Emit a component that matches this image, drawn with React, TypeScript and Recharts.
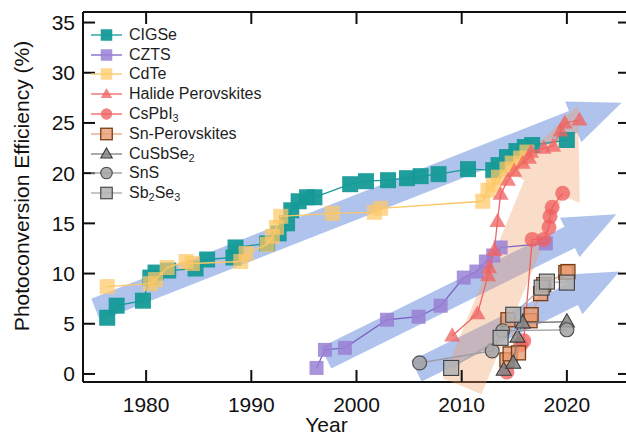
import React from 'react';
import { ComposedChart, Scatter, XAxis, YAxis, Legend, Label } from 'recharts';

const FONT = '"Liberation Sans", Arial, sans-serif';

// ---------- data ----------
const yearTicks = [1980, 1990, 2000, 2010, 2020];
const effTicks = [0, 5, 10, 15, 20, 25, 30, 35];
const xDomain: [number, number] = [1974, 2026];
const yDomain: [number, number] = [-0.8, 36.05];

const cigse = [[1976.3, 5.6], [1977.2, 6.8], [1979.7, 7.3], [1980.4, 9.6], [1980.9, 10.1], [1982.1, 10.3], [1984.7, 10.5], [1985.8, 11.4], [1988.3, 11.6], [1988.5, 12.6], [1991.5, 13.0], [1992.6, 14.0], [1993.4, 15.0], [1993.8, 16.3], [1994.5, 17.2], [1995.3, 17.6], [1996.0, 17.6], [1999.4, 18.9], [2000.9, 19.2], [2003.0, 19.3], [2004.8, 19.5], [2006.1, 19.7], [2007.8, 19.9], [2010.6, 20.4], [2013.0, 20.3], [2013.5, 20.8], [2014.3, 21.6], [2015.2, 22.2], [2016.0, 22.6], [2016.7, 22.8], [2020.0, 23.3]];
const czts = [[1996.2, 0.6], [1997.0, 2.4], [1998.9, 2.6], [2002.9, 5.4], [2005.9, 5.7], [2008.0, 6.8], [2010.2, 9.6], [2011.4, 10.2], [2012.3, 11.2], [2013.0, 11.8], [2013.7, 12.6], [2018.0, 13.0]];
const cdte = [[1976.3, 8.7], [1980.4, 9.0], [1980.9, 9.4], [1982.0, 10.6], [1983.8, 11.2], [1984.4, 11.0], [1989.0, 11.2], [1989.5, 12.0], [1991.5, 12.9], [1992.0, 13.7], [1992.4, 14.6], [1992.8, 15.7], [1997.7, 16.0], [2001.7, 16.1], [2002.3, 16.5], [2012.0, 17.2], [2012.5, 18.3], [2013.0, 18.8], [2013.5, 19.6], [2014.3, 20.4], [2014.8, 21.0], [2015.6, 21.5], [2016.2, 22.1]];
const halide = [[2009.1, 3.8], [2011.5, 6.0], [2012.5, 9.8], [2012.6, 10.6], [2013.1, 12.3], [2013.4, 15.2], [2013.7, 17.9], [2014.4, 19.3], [2015.0, 20.2], [2015.8, 21.0], [2016.4, 21.5], [2016.6, 22.1], [2017.8, 22.5], [2018.7, 22.7], [2019.4, 24.2], [2019.8, 25.0], [2021.2, 25.3]];
const cspbi3 = [[2014.3, 0.2], [2015.6, 2.9], [2015.9, 3.3], [2016.7, 13.4], [2017.8, 13.4], [2018.3, 14.6], [2018.4, 15.7], [2018.6, 16.6], [2019.6, 18.0]];
const snPerov = [[2014.3, 1.4], [2014.6, 2.0], [2015.4, 2.1], [2014.4, 5.4], [2016.5, 5.3], [2016.6, 5.9], [2017.5, 8.0], [2017.8, 8.9], [2019.9, 10.1], [2020.1, 10.2]];
const cuSbSe2 = [[2014.0, 0.4], [2014.9, 1.1], [2015.3, 3.7], [2015.8, 5.1], [2020.0, 5.2]];
const snS = [[2006.0, 1.1], [2012.9, 2.3], [2013.9, 4.3], [2020.0, 4.4]];
const sb2Se3 = [[2009.0, 0.6], [2013.7, 3.6], [2014.9, 5.9], [2017.6, 8.6], [2018.1, 9.2], [2020.0, 9.1]];

// trend arrows: [tail, tip] in (year, %)
const blueArrowTop = [[1975.2, 6.4], [2025.2, 27.0]];
const blueArrowMid = [[1997.1, 1.6], [2024.7, 15.9]];
const blueArrowLow = [[2005.7, 0.3], [2025.0, 10.2]];
const orangeArrow = [[2010.2, -0.8], [2021.06, 26.8]];

// ---------- helpers / styles ----------
type Pt = { x: number; y: number };
const toPts = (a: number[][]): Pt[] => a.map(([x, y]) => ({ x, y }));

type Kind = 'square' | 'circle' | 'triangle';
interface SeriesStyle { name: string; data: number[][]; kind: Kind; size: number; fill: string; stroke: string; sw: number; line: string; op: number; }

const series: SeriesStyle[] = [
  { name: 'CIGSe', data: cigse, kind: 'square', size: 16, fill: '#159a98', stroke: 'none', sw: 0, line: '#159a98', op: 0.95 },
  { name: 'CZTS', data: czts, kind: 'square', size: 14, fill: '#9a80d4', stroke: 'none', sw: 0, line: '#7d62c4', op: 0.85 },
  { name: 'CdTe', data: cdte, kind: 'square', size: 15, fill: '#fdc767', stroke: 'none', sw: 0, line: '#fcc666', op: 0.72 },
  { name: 'Halide Perovskites', data: halide, kind: 'triangle', size: 16, fill: '#f06464', stroke: 'none', sw: 0, line: '#f06464', op: 0.78 },
  { name: 'CsPbI3', data: cspbi3, kind: 'circle', size: 15, fill: '#f06060', stroke: 'none', sw: 0, line: '#f06060', op: 0.78 },
  { name: 'Sn-Perovskites', data: snPerov, kind: 'square', size: 14, fill: '#e99a70', stroke: '#7a3c12', sw: 1.3, line: '#e9a27c', op: 0.78 },
  { name: 'CuSbSe2', data: cuSbSe2, kind: 'triangle', size: 15, fill: '#858585', stroke: '#3a3a3a', sw: 1.1, line: '#7e7e7e', op: 0.85 },
  { name: 'SnS', data: snS, kind: 'circle', size: 14, fill: '#a2a2a2', stroke: '#4d4d4d', sw: 1.1, line: '#9a9a9a', op: 0.85 },
  { name: 'Sb2Se3', data: sb2Se3, kind: 'square', size: 15, fill: '#b2b2b2', stroke: '#3f3f3f', sw: 1.1, line: '#a8a8a8', op: 0.85 },
];
const byName: Record<string, SeriesStyle> = Object.fromEntries(series.map((s) => [s.name, s]));
const order: Record<string, number> = Object.fromEntries(series.map((s, i) => [s.name, i]));

function Marker({ cx, cy, s, size }: { cx: number; cy: number; s: SeriesStyle; size: number }) {
  const common = { fill: s.fill, fillOpacity: s.op, stroke: s.stroke, strokeWidth: s.sw };
  if (s.kind === 'square') return <rect x={cx - size / 2} y={cy - size / 2} width={size} height={size} {...common} />;
  if (s.kind === 'circle') return <circle cx={cx} cy={cy} r={size / 2} {...common} />;
  const h = size * 0.88;
  return <polygon points={`${cx},${cy - h * 0.6} ${cx + size / 2},${cy + h * 0.4} ${cx - size / 2},${cy + h * 0.4}`} {...common} />;
}

interface ArrowStyle { fill: string; opacity: number; shaft: number; head: number; headLen: number; tailExtend: number; }
const blueStyle: ArrowStyle = { fill: '#5a82d8', opacity: 0.48, shaft: 23.5, head: 44, headLen: 52, tailExtend: 0 };
const orangeStyle: ArrowStyle = { fill: '#f09a62', opacity: 0.34, shaft: 42, head: 78, headLen: 90, tailExtend: 4.5 };

const arrowLine = (st: ArrowStyle) => (props: any) => {
  const p = props.points as { x: number; y: number }[];
  if (!p || p.length < 2) return <g />;
  const a = p[0], b = p[1];
  const dx = b.x - a.x, dy = b.y - a.y;
  const len = Math.hypot(dx, dy) || 1;
  const ux = dx / len, uy = dy / len;
  const nx = -uy, ny = ux;
  const tx = a.x - ux * st.tailExtend, ty = a.y - uy * st.tailExtend;
  const bx = b.x - ux * st.headLen, by = b.y - uy * st.headLen;
  const sh = st.shaft / 2, hh = st.head / 2;
  const poly = [
    [tx + nx * sh, ty + ny * sh], [bx + nx * sh, by + ny * sh], [bx + nx * hh, by + ny * hh], [b.x, b.y],
    [bx - nx * hh, by - ny * hh], [bx - nx * sh, by - ny * sh], [tx - nx * sh, ty - ny * sh],
  ].map((q) => q.join(',')).join(' ');
  return <polygon points={poly} fill={st.fill} fillOpacity={st.opacity} stroke="none" />;
};

const nameWithSubs = (name: string) =>
  name.split(/(\d+)/).map((part, i) =>
    /^\d+$/.test(part) ? <sub key={i} style={{ fontSize: '0.68em', lineHeight: 0, verticalAlign: '-0.3em' }}>{part}</sub> : <span key={i}>{part}</span>
  );

const renderLegend = (props: any) => {
  const payload = (props.payload || [])
    .filter((e: any) => byName[e.value])
    .slice()
    .sort((a: any, b: any) => order[a.value] - order[b.value]);
  return (
    <div style={{ fontFamily: FONT, fontSize: 16, color: '#1e1e1e' }}>
      {payload.map((e: any) => {
        const s = byName[e.value];
        return (
          <div key={e.value} style={{ display: 'flex', alignItems: 'center', height: 19.8, whiteSpace: 'nowrap' }}>
            <svg width={31} height={16} style={{ marginRight: 7, overflow: 'visible', flex: 'none' }}>
              <line x1={0} y1={8} x2={31} y2={8} stroke={s.line} strokeWidth={1.3} />
              <Marker cx={15.5} cy={8} s={s} size={11.5} />
            </svg>
            <span>{nameWithSubs(s.name)}</span>
          </div>
        );
      })}
    </div>
  );
};

const AX = '#111';
const TICK = 12;

const BottomTick = (p: any) => (
  <g>
    <line x1={p.x} y1={p.y} x2={p.x} y2={p.y - TICK} stroke={AX} strokeWidth={2} />
    <text x={p.x} y={p.y + 30} textAnchor="middle" fontSize={21} fontFamily={FONT} fill="#111">{p.payload.value}</text>
  </g>
);
const TopTick = (p: any) => <line x1={p.x} y1={p.y} x2={p.x} y2={p.y + TICK} stroke={AX} strokeWidth={2} />;
const LeftTick = (p: any) => (
  <g>
    <line x1={p.x} y1={p.y} x2={p.x + TICK} y2={p.y} stroke={AX} strokeWidth={2} />
    <text x={p.x - 8} y={p.y + 7.5} textAnchor="end" fontSize={21} fontFamily={FONT} fill="#111">{p.payload.value}</text>
  </g>
);
const RightTick = (p: any) => <line x1={p.x} y1={p.y} x2={p.x - TICK} y2={p.y} stroke={AX} strokeWidth={2} />;

const YTitle = (p: any) => {
  const vb = p.viewBox || { x: 0, y: 12, width: 83, height: 370 };
  const cx = vb.x + 21;
  const cy = vb.y + vb.height / 2 - 11;
  return (
    <text x={cx} y={cy} transform={`rotate(-90 ${cx} ${cy})`} textAnchor="middle" dominantBaseline="central" fontSize={21} fontFamily={FONT} fill="#111">
      Photoconversion Efficiency (%)
    </text>
  );
};
const XTitle = (p: any) => {
  const vb = p.viewBox || { x: 83, y: 382, width: 547, height: 56 };
  return (
    <text x={vb.x + vb.width / 2 - 30} y={vb.y + 50} textAnchor="middle" fontSize={21} fontFamily={FONT} fill="#111">Year</text>
  );
};

const noShape = () => <g />;

export default function App() {
  return (
    <div style={{ position: 'fixed', left: 0, top: 0, width: 626, height: 438, overflow: 'hidden', background: '#fff', fontFamily: FONT }}>
      <ComposedChart width={642} height={438} margin={{ top: 0, right: 0, bottom: 0, left: 0 }}>
        <XAxis xAxisId={0} type="number" dataKey="x" domain={xDomain} ticks={yearTicks} interval={0} height={56}
          axisLine={{ stroke: AX, strokeWidth: 2 }} tickLine={false} tickSize={0} tickMargin={0} tick={BottomTick}>
          <Label content={XTitle} />
        </XAxis>
        <XAxis xAxisId="top" orientation="top" type="number" dataKey="x" domain={xDomain} ticks={yearTicks} interval={0} height={12}
          allowDataOverflow axisLine={{ stroke: AX, strokeWidth: 2 }} tickLine={false} tickSize={0} tickMargin={0} tick={TopTick} />
        <YAxis yAxisId={0} type="number" dataKey="y" domain={yDomain} ticks={effTicks} interval={0} width={83}
          axisLine={{ stroke: AX, strokeWidth: 2 }} tickLine={false} tickSize={0} tickMargin={0} tick={LeftTick}>
          <Label content={YTitle} />
        </YAxis>
        <YAxis yAxisId="right" orientation="right" type="number" dataKey="y" domain={yDomain} ticks={effTicks} interval={0} width={12}
          allowDataOverflow axisLine={{ stroke: AX, strokeWidth: 2 }} tickLine={false} tickSize={0} tickMargin={0} tick={RightTick} />

        <Scatter name="arrow-top" data={toPts(blueArrowTop)} legendType="none" shape={noShape} line={arrowLine(blueStyle)} isAnimationActive={false} />
        <Scatter name="arrow-mid" data={toPts(blueArrowMid)} legendType="none" shape={noShape} line={arrowLine(blueStyle)} isAnimationActive={false} />
        <Scatter name="arrow-low" data={toPts(blueArrowLow)} legendType="none" shape={noShape} line={arrowLine(blueStyle)} isAnimationActive={false} />
        <Scatter name="arrow-orange" data={toPts(orangeArrow)} legendType="none" shape={noShape} line={arrowLine(orangeStyle)} isAnimationActive={false} />

        {series.map((s) => (
          <Scatter key={s.name} name={s.name} data={toPts(s.data)} fill={s.fill}
            line={{ stroke: s.line, strokeWidth: 1.3 }} lineJointType="linear"
            shape={(p: any) => <Marker cx={p.cx} cy={p.cy} s={s} size={s.size} />}
            isAnimationActive={false} />
        ))}

        <Legend content={renderLegend} layout="vertical" align="center" verticalAlign="middle"
          wrapperStyle={{ left: 91, top: 25, width: 'auto', height: 'auto' }} />
      </ComposedChart>
    </div>
  );
}
